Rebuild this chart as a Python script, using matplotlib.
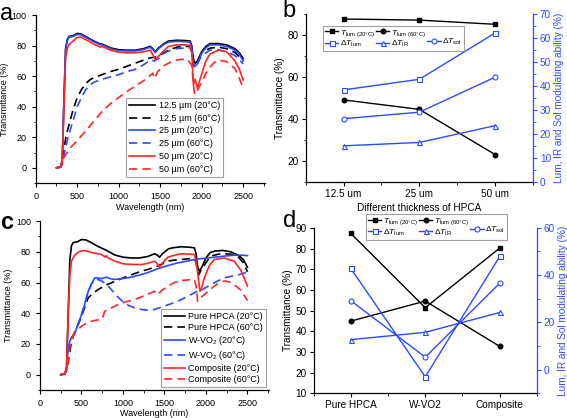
import matplotlib
matplotlib.use('Agg')
import matplotlib.pyplot as plt
from matplotlib.lines import Line2D
from matplotlib.ticker import MultipleLocator, FixedLocator

plt.rcParams['font.family'] = ['Liberation Sans', 'DejaVu Sans']
plt.rcParams['mathtext.fontset'] = 'custom'
plt.rcParams['mathtext.rm'] = 'Liberation Sans'
plt.rcParams['mathtext.it'] = 'Liberation Sans:italic'

BLUE = '#2b4bff'
RED = '#ff2626'

# ---------------- panel a : spectra, different thickness ----------------
wl_a20 = [250, 300, 320, 340, 360, 380, 400, 450, 500, 550, 600, 700, 780, 800, 900, 1000,
          1100, 1200, 1300, 1380, 1410, 1440, 1480, 1550, 1600, 1700, 1800, 1860, 1880, 1900,
          1920, 1950, 2000, 2050, 2100, 2200, 2300, 2400, 2450, 2500]
t_125_20 = [0, 0.7, 5, 45, 78, 84, 86, 86.5, 88, 87.5, 86, 83, 81, 81, 78.5, 77.3,
            77, 77, 78, 79.5, 78, 76, 78.5, 81.5, 83, 83.5, 83.3, 83, 80, 70,
            68.5, 70, 76, 79.5, 81.3, 81.3, 80.5, 78, 75.5, 71.5]
t_25_20 = [0, 0.7, 5, 44, 77, 83, 85.5, 86, 87.3, 87, 85.5, 82.5, 80.5, 80.5, 78, 76.7,
           76.5, 76.5, 77.5, 79, 77.5, 75.5, 78, 81, 82.3, 82.8, 82.6, 82.3, 79, 68,
           66.5, 68.5, 75, 78.5, 80.5, 80.5, 79.5, 77, 74.5, 70]

wl_a50 = [250, 300, 320, 340, 360, 380, 400, 450, 500, 550, 600, 700, 780, 800, 900, 1000,
          1100, 1200, 1300, 1380, 1410, 1440, 1480, 1550, 1600, 1700, 1800, 1860, 1880, 1900,
          1920, 1950, 1980, 2050, 2100, 2200, 2300, 2400, 2450, 2500]
t_50_20 = [0, 0.5, 3, 40, 72, 78, 80.5, 83, 85.3, 85.5, 84, 81, 79, 79.5, 77, 75.7,
           75.3, 75.3, 76, 77, 74, 71, 73, 77, 79.5, 80.5, 80.5, 80, 75, 54,
           58, 52, 58, 70, 74.5, 77, 76, 70, 65, 57.5]

wl_a125_60 = [250, 300, 320, 340, 360, 380, 400, 450, 500, 550, 600, 650, 700, 800, 900, 1000,
              1100, 1200, 1300, 1380, 1450, 1500, 1600, 1700, 1800, 1860, 1880, 1910, 1940, 2000,
              2100, 2200, 2300, 2400, 2500]
t_125_60 = [0, 0.5, 4, 12, 19, 24, 28, 38, 46, 51, 55, 57.5, 59, 61, 63, 64.5,
            66.5, 68.5, 70.5, 72, 72.5, 74, 77, 79, 79.5, 79.5, 77, 69, 69.5, 75.5,
            78.3, 79, 78, 75.5, 70]

wl_a25_60 = [250, 300, 320, 340, 360, 380, 400, 450, 500, 550, 600, 650, 700, 800, 900, 1000,
             1100, 1200, 1300, 1380, 1430, 1480, 1550, 1600, 1700, 1800, 1860, 1880, 1910, 1940,
             2000, 2100, 2200, 2300, 2400, 2500]
t_25_60 = [0, 0.5, 3, 8, 13, 18, 22, 31, 40, 46, 51, 54, 56, 58, 59.5, 61,
           63, 64.5, 67.5, 70.5, 70, 71.5, 75, 76.5, 78, 78.5, 78.5, 76, 65.5, 67,
           73.5, 77, 77.3, 76, 73.5, 68]

wl_a50_60 = [250, 300, 320, 335, 360, 400, 450, 500, 550, 600, 700, 800, 900, 1000, 1100, 1200,
             1300, 1380, 1410, 1430, 1470, 1550, 1650, 1750, 1830, 1880, 1910, 1930, 1960, 2000,
             2070, 2150, 2200, 2300, 2400, 2450, 2500]
t_50_60 = [0, 0.3, 2, 7, 8.5, 12, 15, 17.5, 21, 24, 30.5, 37, 42, 46, 50, 53.5,
           57, 60.5, 62, 58.5, 63, 67, 70, 71, 71, 67, 49, 48, 52, 56,
           64, 69, 70.5, 69.5, 65, 59, 52]

# ---------------- panel b : thickness summary ----------------
thick_labels = ['12.5 um', '25 um', '50 um']
tlum20_b = [87.5, 87.0, 85.0]
tlum60_b = [49.0, 44.5, 23.0]
dlum_b = [38.3, 42.7, 62.0]
dsol_b = [26.3, 29.0, 43.6]
dir_b = [15.0, 16.4, 23.4]

# ---------------- panel c : spectra, HPCA / W-VO2 / composite ----------------
wl_hp20 = [250, 300, 320, 340, 360, 380, 400, 450, 500, 550, 600, 700, 780, 800, 900, 1000,
           1100, 1200, 1300, 1380, 1410, 1440, 1480, 1550, 1600, 1700, 1800, 1860, 1880, 1900,
           1920, 1950, 2000, 2050, 2100, 2200, 2300, 2400, 2450, 2500]
t_hp20 = [0, 0.5, 5, 40, 75, 84, 86, 86.5, 88, 87.8, 86.5, 83.5, 81.5, 81, 78, 76.5,
          76, 76, 77, 78.7, 78, 76.5, 79, 82, 82.6, 83.3, 83, 82.6, 79, 70,
          67.4, 70, 76, 79.5, 80.4, 80.9, 80, 77.5, 75, 70]

wl_hp60 = [250, 300, 320, 340, 380, 420, 460, 500, 580, 640, 700, 800, 860, 1000, 1100, 1220,
           1300, 1420, 1540, 1600, 1700, 1800, 1860, 1880, 1912, 1940, 2000, 2060, 2150, 2220,
           2300, 2380, 2450, 2500]
t_hp60 = [0, 0.5, 3, 8.7, 21.7, 28, 32.6, 38, 50, 53, 55.4, 58.5, 59.8, 63, 65, 67.4,
          68.5, 70.7, 73.9, 74.5, 75, 75.5, 75.7, 73, 65, 68, 73, 77.2, 78.5, 78.7,
          78.5, 77.2, 73, 67]

wl_wv20 = [250, 300, 320, 340, 360, 380, 420, 460, 500, 540, 580, 620, 660, 700, 740, 800,
           850, 900, 1000, 1100, 1220, 1300, 1420, 1540, 1660, 1780, 1900, 2000, 2100, 2220,
           2340, 2450, 2500]
t_wv20 = [0, 0.5, 3, 17, 22, 24, 27, 33, 39, 46, 54, 59, 63, 63, 62.5, 63.5,
          62.5, 62, 62.6, 63.5, 65.2, 66.5, 69, 71, 72.8, 74, 75.4, 75.8, 76.5, 77.2,
          77.8, 77.8, 77.5]

wl_wv60 = [250, 300, 320, 340, 360, 380, 420, 460, 500, 540, 580, 620, 660, 700, 740, 800,
           860, 930, 1000, 1070, 1140, 1220, 1300, 1380, 1460, 1560, 1660, 1760, 1860, 1900,
           1930, 1960, 2060, 2140, 2220, 2300, 2380, 2450, 2500]
t_wv60 = [0, 0.5, 3, 17, 22, 24, 27, 33, 39, 46, 54, 59, 62, 62, 61, 59,
          55.4, 51, 47.4, 45, 43.5, 42.5, 42, 42.5, 43.9, 45.8, 47.8, 50.5, 53.3, 54.5,
          54, 55.5, 58.7, 61, 63, 64, 64.8, 66, 67]

wl_cp20 = [250, 300, 320, 340, 360, 380, 420, 470, 520, 580, 640, 740, 790, 800, 820, 900,
           1000, 1100, 1220, 1300, 1380, 1410, 1440, 1480, 1540, 1600, 1700, 1800, 1860, 1880,
           1900, 1928, 1950, 1980, 2040, 2100, 2220, 2340, 2420, 2500]
t_cp20 = [0, 0.5, 4, 39, 65, 74, 78, 80, 80.9, 80.3, 79.3, 78.3, 76.5, 77.5, 76, 74,
          72.2, 71.8, 71.7, 72.5, 73.9, 72.5, 70, 73, 76.5, 77.5, 78.7, 78.5, 78.3, 74,
          66, 54.3, 57, 63, 71, 75, 76, 73.9, 68, 57.6]

wl_cp60 = [250, 300, 320, 340, 360, 400, 450, 500, 560, 620, 680, 740, 760, 780, 860, 940,
           1040, 1140, 1260, 1380, 1420, 1460, 1540, 1620, 1700, 1800, 1860, 1880, 1900, 1930,
           1980, 2040, 2100, 2160, 2220, 2280, 2340, 2420, 2500]
t_cp60 = [0, 0.5, 3, 8.7, 18, 26, 29, 31.5, 33.5, 34.8, 35.5, 35.9, 38, 41.3, 43.5, 45.7,
          47.5, 48.9, 51.5, 54.3, 52.2, 54.5, 57.6, 60, 61.3, 61.8, 62, 58, 47.8, 50,
          52, 55, 57.6, 60, 61, 60.5, 58.7, 55, 48.3]

# ---------------- panel d : sample summary ----------------
sample_labels = ['Pure HPCA', 'W-VO2', 'Composite']
tlum20_d = [87.3, 51.4, 80.2]
tlum60_d = [44.9, 54.6, 32.7]
dlum_d = [42.8, -3.0, 47.9]
dsol_d = [29.2, 5.3, 36.6]
dir_d = [12.7, 15.8, 24.2]

FS = 6.5
FS2 = 7.2
DASH = (5, 3)

fig = plt.figure(figsize=(5.67, 4.18), dpi=100)


def spectrum_axes(ax):
    ax.set_xlim(0, 2760)
    ax.set_ylim(-10, 100)
    ax.spines['top'].set_visible(False)
    ax.spines['right'].set_visible(False)
    ax.xaxis.set_major_locator(MultipleLocator(500))
    ax.xaxis.set_minor_locator(MultipleLocator(250))
    ax.yaxis.set_major_locator(FixedLocator([0, 20, 40, 60, 80, 100]))
    ax.yaxis.set_minor_locator(MultipleLocator(10))
    ax.tick_params(labelsize=FS, length=3, width=0.8, direction='out')
    ax.tick_params(which='minor', length=1.8, width=0.6)
    for s in ax.spines.values():
        s.set_linewidth(0.9)
    ax.set_xlabel('Wavelength (nm)', fontsize=FS, labelpad=1)
    ax.set_ylabel('Transmittance (%)', fontsize=FS, labelpad=2)


def spectrum_legend(ax, anchor, hl, sp):
    leg = ax.legend(loc='lower left', bbox_to_anchor=anchor, fontsize=FS, frameon=True,
                    fancybox=False, edgecolor='#8a8a8a', handlelength=hl, labelspacing=sp,
                    borderpad=0.35, handletextpad=0.4, borderaxespad=0)
    leg.get_frame().set_linewidth(0.8)


# ---- a ----
ax = fig.add_axes([0.063, 0.562, 0.404, 0.402])
ax.plot(wl_a20, t_125_20, color='k', lw=1.2, label='12.5 µm (20°C)')
ax.plot(wl_a125_60, t_125_60, color='k', lw=1.2, dashes=DASH, label='12.5 µm (60°C)')
ax.plot(wl_a20, t_25_20, color=BLUE, lw=1.2, label='25 µm (20°C)')
ax.plot(wl_a25_60, t_25_60, color=BLUE, lw=1.2, dashes=DASH, label='25 µm (60°C)')
ax.plot(wl_a50, t_50_20, color=RED, lw=1.2, label='50 µm (20°C)')
ax.plot(wl_a50_60, t_50_60, color=RED, lw=1.2, dashes=DASH, label='50 µm (60°C)')
spectrum_axes(ax)
spectrum_legend(ax, (0.394, 0.036), 2.9, 0.42)

# ---- c ----
ax = fig.add_axes([0.0705, 0.067, 0.404, 0.404])
ax.plot(wl_hp20, t_hp20, color='k', lw=1.2, label='Pure HPCA (20°C)')
ax.plot(wl_hp60, t_hp60, color='k', lw=1.2, dashes=DASH, label='Pure HPCA (60°C)')
ax.plot(wl_wv20, t_wv20, color=BLUE, lw=1.2, label='W-VO$_2$ (20°C)')
ax.plot(wl_wv60, t_wv60, color=BLUE, lw=1.2, dashes=DASH, label='W-VO$_2$ (60°C)')
ax.plot(wl_cp20, t_cp20, color=RED, lw=1.2, label='Composite (20°C)')
ax.plot(wl_cp60, t_cp60, color=RED, lw=1.2, dashes=DASH, label='Composite (60°C)')
spectrum_axes(ax)
spectrum_legend(ax, (0.528, 0.018), 2.3, 0.22)


def summary_axes(rect, labels, t20, t60, dlum, dir_, dsol, ylim2, yt2, legend_anchor):
    ax = fig.add_axes(rect)
    x = list(range(len(labels)))
    h1, = ax.plot(x, t20, 's-', color='k', lw=1.0, ms=3.3, label=r'$T_{\rm lum\ (20°C)}$')
    h2, = ax.plot(x, t60, 'o-', color='k', lw=1.0, ms=3.3, label=r'$T_{\rm lum\ (60°C)}$')
    ax.set_xlim(-0.5, 2.5)
    ax.set_ylim(10, 90)
    ax.set_xticks(x)
    ax.set_xticklabels(labels)
    ax.xaxis.set_minor_locator(FixedLocator([-0.5, 0.5, 1.5, 2.5]))
    ax.spines['top'].set_visible(False)
    ax.spines['right'].set_visible(False)
    ax.tick_params(labelsize=FS2, length=3, width=0.8, pad=2)
    ax.tick_params(which='minor', length=1.8, width=0.6)
    ax.set_ylabel('Transmittance (%)', fontsize=FS2, labelpad=2)
    for s in ax.spines.values():
        s.set_linewidth(0.9)
    ax2 = ax.twinx()
    kw = dict(color=BLUE, lw=1.0, ms=3.6, mfc='white', mec=BLUE, mew=0.8)
    h3, = ax2.plot(x, dlum, 's-', label=r'$\Delta T_{\rm lum}$', **kw)
    h4, = ax2.plot(x, dir_, '^-', label=r'$\Delta T_{\rm IR}$', **kw)
    h5, = ax2.plot(x, dsol, 'o-', label=r'$\Delta T_{\rm sol}$', **kw)
    ax2.set_ylim(*ylim2)
    ax2.yaxis.set_major_locator(FixedLocator(yt2))
    ax2.spines['top'].set_visible(False)
    ax2.spines['left'].set_visible(False)
    ax2.spines['bottom'].set_visible(False)
    ax2.spines['right'].set_color(BLUE)
    ax2.spines['right'].set_linewidth(0.9)
    ax2.tick_params(labelsize=FS2, length=3, width=0.8, colors=BLUE, pad=2)
    ax2.tick_params(which='minor', length=1.8, width=0.6, colors=BLUE)
    ax2.set_ylabel('Lum, IR and Sol modulating ability (%)', fontsize=FS2, color=BLUE, labelpad=2)
    blank = Line2D([], [], linestyle='none')
    leg = ax2.legend([h1, h3, h2, h4, blank, h5],
                     [h1.get_label(), h3.get_label(), h2.get_label(), h4.get_label(), '', h5.get_label()],
                     ncol=3, loc='upper left', bbox_to_anchor=legend_anchor, fontsize=6.0,
                     frameon=True, fancybox=False, edgecolor='#8a8a8a', handlelength=1.6,
                     handletextpad=0.2, columnspacing=0.15, labelspacing=0.05, borderpad=0.25,
                     borderaxespad=0)
    leg.get_frame().set_linewidth(0.8)
    return ax, ax2


# ---- b ----
ax, ax2 = summary_axes([0.539, 0.565, 0.401, 0.402], thick_labels, tlum20_b, tlum60_b,
                       dlum_b, dir_b, dsol_b, (0, 70), list(range(0, 71, 10)), (0.076, 0.929))
ax.yaxis.set_major_locator(FixedLocator([20, 40, 60, 80]))
ax.yaxis.set_minor_locator(MultipleLocator(10))
ax2.yaxis.set_minor_locator(MultipleLocator(5))
ax.set_xlabel('Different thickness of HPCA', fontsize=FS2, labelpad=3)

# ---- d ----
ax, ax2 = summary_axes([0.553, 0.059, 0.394, 0.396], sample_labels, tlum20_d, tlum60_d,
                       dlum_d, dir_d, dsol_d, (-10, 60), [0, 20, 40, 60], (0.234, 1.083))
ax.yaxis.set_major_locator(MultipleLocator(10))
ax2.yaxis.set_minor_locator(MultipleLocator(10))

# panel letters
fig.text(0.0, 0.952, 'a', fontsize=17, va='baseline')
fig.text(0.499, 0.959, 'b', fontsize=17, va='baseline')
fig.text(0.0, 0.452, 'c', fontsize=17, va='baseline', fontweight='bold')
fig.text(0.499, 0.457, 'd', fontsize=17, va='baseline')

fig.savefig('out.png', dpi=100)
